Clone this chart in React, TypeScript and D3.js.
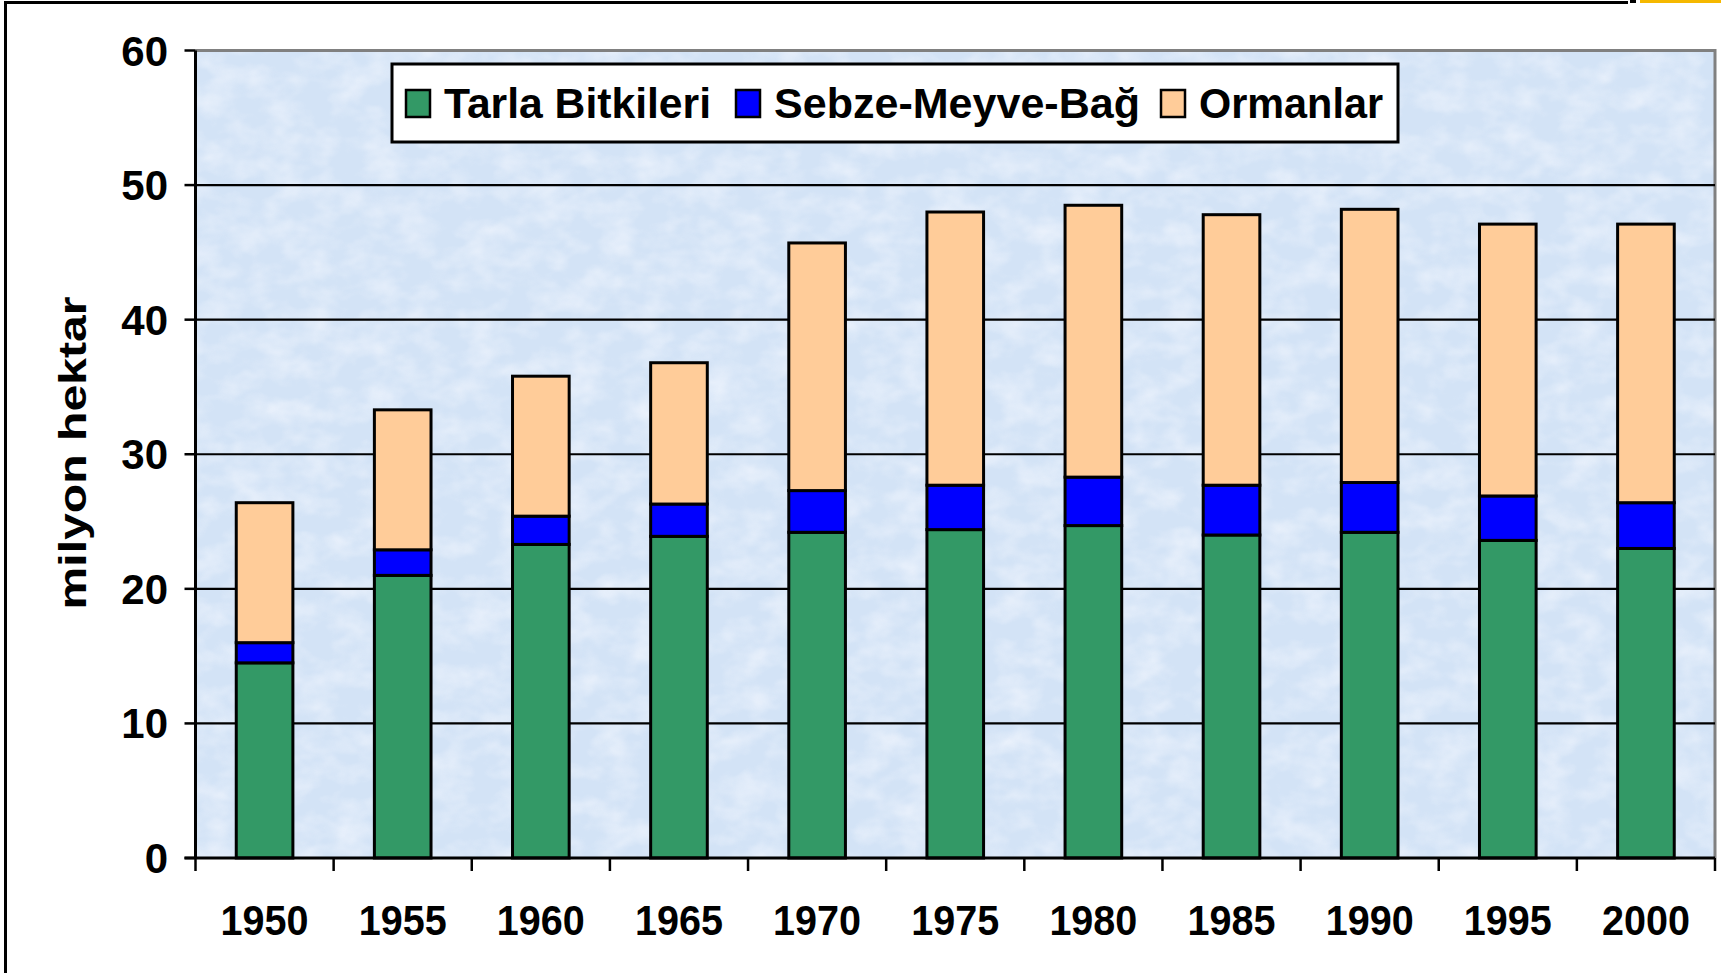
import { useEffect, useRef } from 'react';
import * as d3 from 'd3';

const years = ['1950', '1955', '1960', '1965', '1970', '1975', '1980', '1985', '1990', '1995', '2000'];
const tarla = [14.5, 21.0, 23.3, 23.9, 24.2, 24.4, 24.7, 24.0, 24.2, 23.6, 23.0];
const sebze = [1.5, 1.9, 2.1, 2.4, 3.1, 3.3, 3.6, 3.7, 3.7, 3.3, 3.4];
const ormanlar = [10.4, 10.4, 10.4, 10.5, 18.4, 20.3, 20.2, 20.1, 20.3, 20.2, 20.7];
const seriesNames = ['Tarla Bitkileri', 'Sebze-Meyve-Bağ', 'Ormanlar'];
const seriesColors = ['#339966', '#0000ff', '#ffcc99'];
const yTicks = [0, 10, 20, 30, 40, 50, 60];

function App() {
  const svgRef = useRef<SVGSVGElement | null>(null);
  const width = 1721;
  const height = 973;
  const plot = { left: 195.5, right: 1715, top: 50.5, bottom: 858 };
  const family = "'Liberation Sans', Arimo, Arial, Helvetica, sans-serif";
  // legend item x positions (swatch) and label widths
  const legendX = [406, 736, 1161];
  const legendW = [267, 366, 184];

  useEffect(() => {
    const svg = d3.select(svgRef.current);
    svg.selectAll('*').remove();
    svg.attr('font-family', family).attr('font-weight', 'bold');

    const rows = years.map((year, i) => ({ year, t: tarla[i], s: sebze[i], o: ormanlar[i] }));
    const stacked = d3.stack<any>().keys(['t', 's', 'o'])(rows);

    const x = d3.scaleBand().domain(years).range([plot.left, plot.right]).paddingInner(0.59).paddingOuter(0.295);
    const y = d3.scaleLinear().domain([0, 60]).range([plot.bottom, plot.top]);

    // background texture
    const defs = svg.append('defs');
    const filter = defs.append('filter').attr('id', 'tex').attr('x', 0).attr('y', 0).attr('width', 1).attr('height', 1);
    filter.append('feTurbulence').attr('type', 'fractalNoise').attr('baseFrequency', '0.03 0.045').attr('numOctaves', 3).attr('seed', 4).attr('result', 'n');
    filter.append('feColorMatrix').attr('in', 'n').attr('type', 'matrix')
      .attr('values', '0 0 0 0 0.93  0 0 0 0 0.95  0 0 0 0 1  1.6 0 0 0 -0.6');

    svg.append('rect').attr('width', width).attr('height', height).attr('fill', '#fff');

    // outer frame (top and left visible)
    svg.append('line').attr('x1', 5.5).attr('x2', 1628).attr('y1', 2.5).attr('y2', 2.5).attr('stroke', '#000').attr('stroke-width', 3);
    svg.append('line').attr('x1', 5.5).attr('x2', 5.5).attr('y1', 1).attr('y2', height).attr('stroke', '#000').attr('stroke-width', 3);
    svg.append('rect').attr('x', 1640).attr('y', 0).attr('width', 81).attr('height', 3).attr('fill', '#f5b800');
    svg.append('rect').attr('x', 1630).attr('y', 0).attr('width', 6).attr('height', 3).attr('fill', '#000');

    svg.append('rect')
      .attr('x', plot.left).attr('y', plot.top)
      .attr('width', plot.right - plot.left).attr('height', plot.bottom - plot.top)
      .attr('fill', '#d3e3f6');
    svg.append('rect')
      .attr('x', plot.left).attr('y', plot.top)
      .attr('width', plot.right - plot.left).attr('height', plot.bottom - plot.top)
      .attr('fill', '#fff').attr('filter', 'url(#tex)').attr('opacity', 0.7);

    // plot frame top/right in grey
    svg.append('path')
      .attr('d', `M${plot.left},${plot.top}H${plot.right}V${plot.bottom}`)
      .attr('fill', 'none').attr('stroke', '#808080').attr('stroke-width', 3);

    // gridlines
    svg.append('g').selectAll('line').data(yTicks.filter((d) => d > 0 && d < 60)).enter().append('line')
      .attr('x1', plot.left).attr('x2', plot.right)
      .attr('y1', (d) => y(d)).attr('y2', (d) => y(d))
      .attr('stroke', '#000').attr('stroke-width', 2.2);

    // bars
    svg.append('g').selectAll('g').data(stacked).enter().append('g')
      .attr('fill', (_, i) => seriesColors[i])
      .selectAll('rect').data((d) => d).enter().append('rect')
      .attr('x', (d) => x(d.data.year) as number)
      .attr('y', (d) => y(d[1]))
      .attr('width', x.bandwidth())
      .attr('height', (d) => y(d[0]) - y(d[1]))
      .attr('stroke', '#000').attr('stroke-width', 3);

    // axes
    const step = x.step();
    const xTickPos = d3.range(years.length + 1).map((i) => plot.left + i * step);
    svg.append('g').selectAll('line').data(xTickPos).enter().append('line')
      .attr('x1', (d) => d).attr('x2', (d) => d).attr('y1', plot.bottom).attr('y2', plot.bottom + 13)
      .attr('stroke', '#000').attr('stroke-width', 2.5);
    svg.append('g').selectAll('line').data(yTicks).enter().append('line')
      .attr('x1', plot.left - 11).attr('x2', plot.left).attr('y1', (d) => y(d)).attr('y2', (d) => y(d))
      .attr('stroke', '#000').attr('stroke-width', 2.5);
    svg.append('line').attr('x1', plot.left).attr('x2', plot.left).attr('y1', plot.top).attr('y2', plot.bottom)
      .attr('stroke', '#000').attr('stroke-width', 3);
    svg.append('line').attr('x1', plot.left - 11).attr('x2', plot.right).attr('y1', plot.bottom).attr('y2', plot.bottom)
      .attr('stroke', '#000').attr('stroke-width', 3);

    svg.append('g').selectAll('text').data(yTicks).enter().append('text')
      .attr('x', 168).attr('y', (d) => y(d) + 15)
      .attr('text-anchor', 'end')
      .attr('font-size', 42)
      .text((d) => d);

    svg.append('g').selectAll('text').data(years).enter().append('text')
      .attr('x', (d) => (x(d) as number) + x.bandwidth() / 2).attr('y', 935)
      .attr('text-anchor', 'middle')
      .attr('font-size', 42)
      .attr('textLength', 88).attr('lengthAdjust', 'spacingAndGlyphs')
      .text((d) => d);

    svg.append('text')
      .attr('transform', 'translate(86,453) rotate(-90)')
      .attr('text-anchor', 'middle')
      .attr('textLength', 313).attr('lengthAdjust', 'spacingAndGlyphs')
      .attr('font-size', 39)
      .text('milyon hektar');

    // legend
    const legend = svg.append('g');
    legend.append('rect').attr('x', 392).attr('y', 64).attr('width', 1006).attr('height', 78)
      .attr('fill', '#fff').attr('stroke', '#000').attr('stroke-width', 3);
    seriesNames.forEach((name, i) => {
      legend.append('rect').attr('x', legendX[i]).attr('y', 90).attr('width', 24).attr('height', 27)
        .attr('fill', seriesColors[i]).attr('stroke', '#000').attr('stroke-width', 2.5);
      legend.append('text').attr('x', legendX[i] + 38).attr('y', 118)
        .attr('font-size', 42)
        .attr('textLength', legendW[i]).attr('lengthAdjust', 'spacingAndGlyphs')
        .text(name);
    });
  }, []);

  return (
    <div style={{ lineHeight: 0 }}>
      <svg ref={svgRef} width={width} height={height} style={{ position: 'absolute', left: 0, top: 0 }} />
    </div>
  );
}

export default App;
